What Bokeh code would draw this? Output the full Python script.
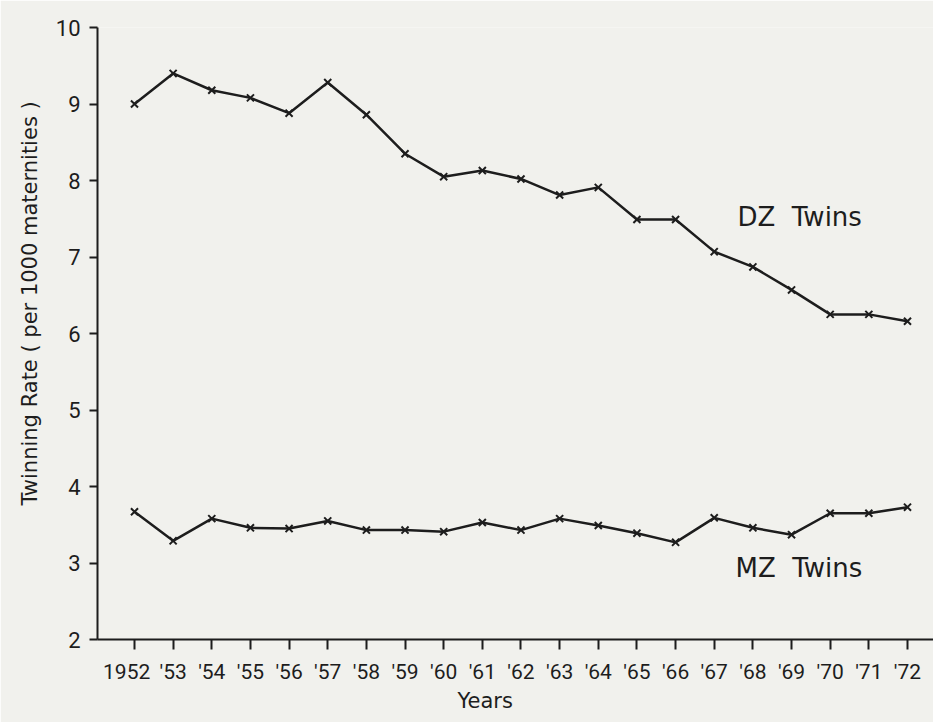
from bokeh.plotting import figure
from bokeh.models import Range1d, FixedTicker, Label, Title
from bokeh.embed import file_html
from bokeh.resources import INLINE

# ---- data ----
years = [1952, 1953, 1954, 1955, 1956, 1957, 1958, 1959, 1960, 1961, 1962,
         1963, 1964, 1965, 1966, 1967, 1968, 1969, 1970, 1971, 1972]
dz_rate = [9.00, 9.40, 9.18, 9.08, 8.88, 9.28, 8.86, 8.35, 8.05, 8.13, 8.02,
           7.81, 7.91, 7.49, 7.49, 7.07, 6.87, 6.57, 6.25, 6.25, 6.16]
mz_rate = [3.67, 3.29, 3.58, 3.46, 3.45, 3.55, 3.43, 3.43, 3.41, 3.53, 3.43,
           3.58, 3.49, 3.39, 3.27, 3.59, 3.46, 3.37, 3.65, 3.65, 3.73]
year_labels = ["1952", "'53", "'54", "'55", "'56", "'57", "'58", "'59", "'60",
               "'61", "'62", "'63", "'64", "'65", "'66", "'67", "'68", "'69",
               "'70", "'71", "'72"]
y_ticks = [2, 3, 4, 5, 6, 7, 8, 9, 10]

INK = "#1d1d1d"
BG = "#f1f1ed"
NB = "\u00a0"

p = figure(width=933, height=722, output_backend="svg", toolbar_location=None,
           x_range=Range1d(1951.043, 1972.673), y_range=Range1d(2, 10),
           min_border_left=97, min_border_right=0, min_border_top=27,
           min_border_bottom=83)

p.background_fill_color = BG
p.border_fill_color = BG
p.outline_line_color = None
p.grid.grid_line_color = None

for ax in (p.xaxis[0], p.yaxis[0]):
    ax.axis_line_color = INK
    ax.axis_line_width = 2
    ax.major_tick_line_color = INK
    ax.major_tick_line_width = 2
    ax.major_tick_in = 0
    ax.minor_tick_line_color = None
    ax.major_label_text_color = INK
    ax.major_label_text_font = "Roboto"
    ax.major_label_text_font_size = "22px"

# first label is pushed a little left of its tick, as in the reference
overrides = {y: lab for y, lab in zip(years, year_labels)}
overrides[years[0]] = year_labels[0] + NB * 3
p.xaxis.ticker = FixedTicker(ticks=years)
p.xaxis.major_label_overrides = overrides
p.xaxis.major_label_text_font_size = "21px"
p.xaxis.major_tick_out = 10
p.xaxis.major_label_standoff = 10

p.yaxis.ticker = FixedTicker(ticks=y_ticks)
p.yaxis.major_tick_out = 8
p.yaxis.major_label_standoff = 9

p.line(years, dz_rate, line_width=2.5, line_color=INK)
p.scatter(years, dz_rate, marker="x", size=10, line_width=2, line_color=INK)
p.line(years, mz_rate, line_width=2.5, line_color=INK)
p.scatter(years, mz_rate, marker="x", size=10, line_width=2, line_color=INK)

p.add_layout(Label(x=1967.60, y=7.52, text="DZ" + NB * 2 + "Twins",
                   text_font="DejaVu Sans", text_font_size="26px",
                   text_color=INK, text_baseline="alphabetic"))
p.add_layout(Label(x=1967.55, y=2.94, text="MZ" + NB * 2 + "Twins",
                   text_font="DejaVu Sans", text_font_size="26px",
                   text_color=INK, text_baseline="alphabetic"))

p.add_layout(Title(text="Twinning" + NB + "Rate ( per 1000 maternities )",
                   align="left", offset=134, text_font="DejaVu Sans",
                   text_font_size="21px", text_font_style="normal",
                   text_color=INK, standoff=22), "left")
p.add_layout(Title(text="Years", align="left", offset=360,
                   text_font="DejaVu Sans", text_font_size="21px",
                   text_font_style="normal", text_color=INK, standoff=0),
             "below")

open("out.html", "w").write(file_html(p, INLINE))
